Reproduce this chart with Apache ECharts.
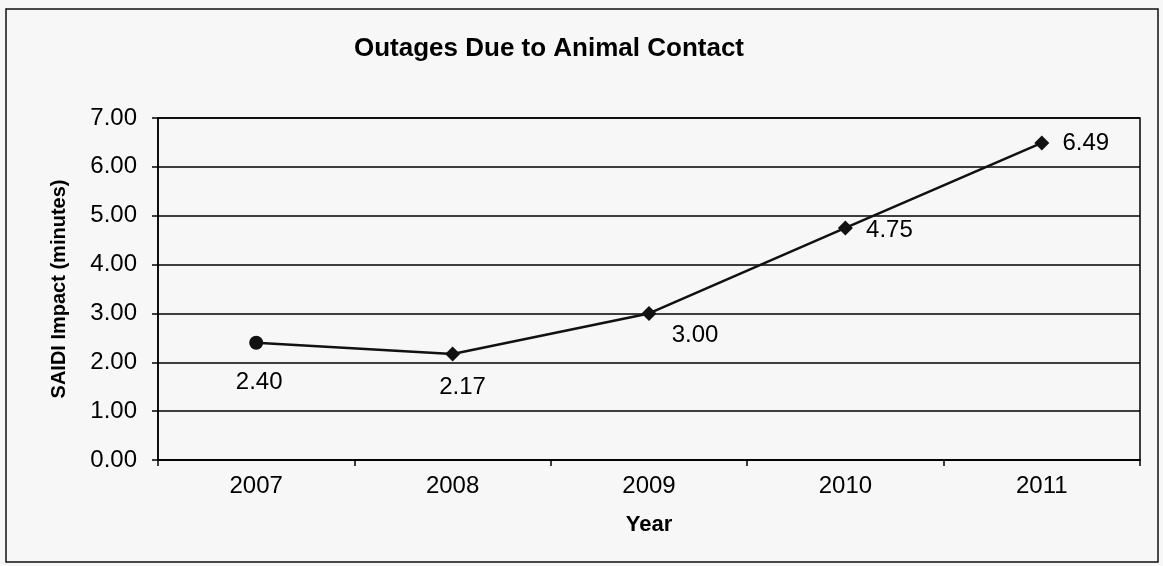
<!DOCTYPE html>
<html>
<head>
<meta charset="utf-8">
<style>
	html, body { margin: 0; padding: 0; background: #f7f7f7; }
	#chart { width: 1163px; height: 566px; }
</style>
<script src="https://cdn.jsdelivr.net/npm/echarts@6/dist/echarts.min.js"></script>
</head>
<body>
<div id="chart"></div>
<script>
// 数据
var years = ['2007', '2008', '2009', '2010', '2011']
var saidiMinutes = [2.40, 2.17, 3.00, 4.75, 6.49]
var yTicks = [0, 1, 2, 3, 4, 5, 6, 7]

// 每个点的标记形状和标签偏移（Excel 风格）
var markerShapes = ['circle', 'diamond', 'diamond', 'diamond', 'diamond']
var labelOffsets = [[3, 40], [10, 33], [46, 22], [44, 2], [44, 0]]

var font = 'Liberation Sans, Arial, sans-serif'

var points = saidiMinutes.map(function (v, i) {
	return {
		value: v,
		symbol: markerShapes[i],
		symbolSize: markerShapes[i] === 'circle' ? 14 : 15,
		label: { position: 'inside', offset: labelOffsets[i] }
	}
})

var chart = echarts.init(document.getElementById('chart'))
chart.setOption({
	backgroundColor: '#f7f7f7',
	animation: false,
	title: {
		text: 'Outages Due to Animal Contact',
		left: 544,
		textAlign: 'center',
		top: 31,
		textStyle: { fontFamily: font, fontSize: 26, fontWeight: 'bold', color: '#000' }
	},
	grid: { left: 158, right: 23, top: 118, bottom: 106, show: true, borderColor: '#000', borderWidth: 1.5 },
	graphic: [
		{
			type: 'rect',
			shape: { x: 6, y: 9, width: 1152, height: 553 },
			style: { fill: 'none', stroke: '#111', lineWidth: 1.5 }
		}
	],
	xAxis: {
		type: 'category',
		data: years,
		boundaryGap: true,
		name: 'Year',
		nameLocation: 'middle',
		nameGap: 54,
		nameTextStyle: { fontFamily: font, fontSize: 22, fontWeight: 'bold', color: '#000' },
		axisLine: { lineStyle: { color: '#000', width: 1.5 } },
		axisTick: { show: true, length: 6, lineStyle: { color: '#000', width: 1.5 } },
		axisLabel: { fontFamily: font, fontSize: 24, color: '#000', margin: 14 },
		splitLine: { show: false }
	},
	yAxis: {
		type: 'value',
		min: yTicks[0],
		max: yTicks[yTicks.length - 1],
		interval: 1,
		name: 'SAIDI Impact (minutes)',
		nameLocation: 'middle',
		nameGap: 89,
		nameTextStyle: { fontFamily: font, fontSize: 20, fontWeight: 'bold', color: '#000' },
		axisLine: { show: true, lineStyle: { color: '#000', width: 1.5 } },
		axisTick: { show: true, length: 6, lineStyle: { color: '#000', width: 1.5 } },
		axisLabel: {
			fontFamily: font, fontSize: 24, color: '#000', margin: 21,
			formatter: function (v) { return v.toFixed(2) }
		},
		splitLine: { show: true, lineStyle: { color: '#000', width: 1.5 } }
	},
	series: [
		{
			type: 'line',
			data: points,
			lineStyle: { color: '#111', width: 2.5 },
			itemStyle: { color: '#111' },
			label: {
				show: true,
				fontFamily: font,
				fontSize: 24,
				color: '#000',
				formatter: function (p) { return p.value.toFixed(2) }
			}
		}
	]
})
</script>
</body>
</html>
